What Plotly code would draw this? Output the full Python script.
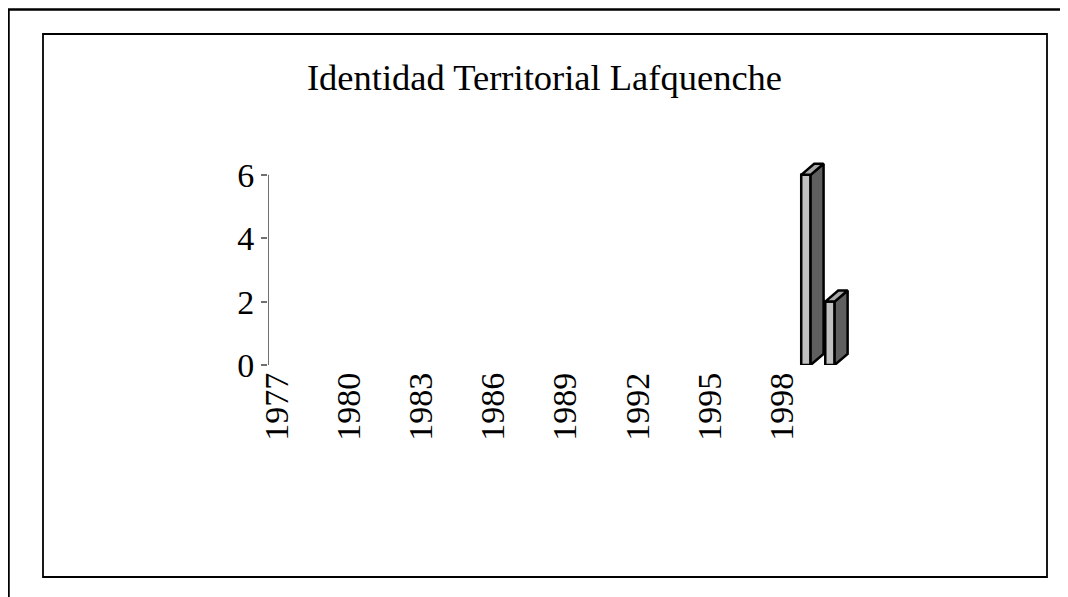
import plotly.graph_objects as go

# Identidad Territorial Lafquenche - barras "3D" por año

years = [1999, 2000]
values = [6, 2]
tick_years = [1977, 1980, 1983, 1986, 1989, 1992, 1995, 1998]
y_ticks = [0, 2, 4, 6]

FONT = 'Liberation Serif'
W = 0.39      # ancho de la barra (años)
DX = 0.54     # profundidad en x (años)
DY = 0.35     # profundidad en y (unidades)
X0, X1 = 1976.63, 2001.0

# tamaño de figura (la pagina agrega 8 px de margen)
FW, FH = 1060, 589
L, R, T, B = 260, 846, 151, 357   # area de trazado en px

fig = go.Figure()
fig.add_trace(go.Bar(x=years, y=values, width=W,
                     marker=dict(color='#c0c0c0', line=dict(color='black', width=2.5)),
                     showlegend=False, hoverinfo='skip'))

for x, v in zip(years, values):
    r = x + W / 2
    l = x - W / 2
    # cara lateral
    fig.add_trace(go.Scatter(x=[r, r + DX, r + DX, r, r], y=[0, DY, v + DY, v, 0],
                             mode='lines', fill='toself', fillcolor='#5f5f5f',
                             line=dict(color='black', width=2.5), showlegend=False, hoverinfo='skip'))
    # cara superior
    fig.add_trace(go.Scatter(x=[l, r, r + DX, l + DX, l], y=[v, v, v + DY, v + DY, v],
                             mode='lines', fill='toself', fillcolor='#a8a8a8',
                             line=dict(color='black', width=2.5), showlegend=False, hoverinfo='skip'))


def px(x):
    return (x - L) / (R - L)


def py(y):
    return (B - y) / (B - T)


# marcos
fig.add_shape(type='rect', xref='paper', yref='paper',
              x0=px(0.5), x1=px(1100), y0=py(640), y1=py(1.5),
              line=dict(color='black', width=2.5))
fig.add_shape(type='rect', xref='paper', yref='paper',
              x0=px(35), x1=px(1039), y0=py(569), y1=py(26),
              line=dict(color='black', width=1.8))
# eje y (solo de 0 a 6)
fig.add_shape(type='line', xref='x', yref='y', x0=X0, x1=X0, y0=0, y1=6,
              line=dict(color='#707070', width=2))

fig.update_layout(
    width=FW, height=FH,
    margin=dict(l=L, r=FW - R, t=T, b=FH - B, pad=0),
    paper_bgcolor='white', plot_bgcolor='white',
    font=dict(family=FONT, color='black'),
    title=dict(text='Identidad Territorial Lafquenche', font=dict(family=FONT, size=36.5, color='black'),
               x=536.5 / FW, xanchor='center', xref='container',
               y=1 - 69 / FH, yanchor='middle', yref='container'),
    xaxis=dict(range=[X0, X1], tickvals=tick_years, ticktext=[str(t) for t in tick_years],
               tickangle=-90, showline=False, showgrid=False, zeroline=False, ticks='',
               tickfont=dict(family=FONT, size=34, color='black')),
    yaxis=dict(range=[0, 6.5], tickvals=y_ticks, showline=False, showgrid=False, zeroline=False,
               ticks='outside', ticklen=6, tickcolor='#707070', tickwidth=1.5,
               tickfont=dict(family=FONT, size=34, color='black')),
)

fig.write_html("out.html")
